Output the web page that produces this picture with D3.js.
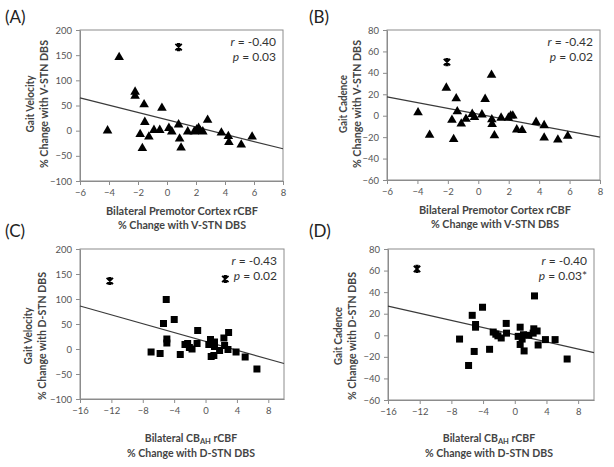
<!DOCTYPE html>
<html><head><meta charset="utf-8">
<script src="https://cdn.jsdelivr.net/npm/d3@7"></script>
<style>
body{margin:0;background:#fff;}
svg{display:block;font-family:Lato,"Open Sans",sans-serif;}
</style></head>
<body><svg id="c" width="614" height="467"></svg>
<script>
// ---- Data ----
// Panel A: Premotor rCBF vs Gait Velocity (V-STN)
const xA = [-4.1,-3.3,-2.2,-2.2,-1.85,-1.7,-1.58,-1.53,-1.25,-0.9,-0.5,-0.35,0.13,0.33,0.8,0.87,0.97,1.43,1.88,2.05,2.18,2.3,2.47,2.8,3.75,4.23,4.27,5.12,5.87];
const yA = [0,146,77,69,-7,-35,52,17,-12,1,1,45,5,-2,12,-16,-34,-2,-2,2,5,-1,-2,21,-4,-11,-23,-28,-12];
const outXA = [0.8], outYA = [166];
const fitXA = [-6, 8], fitYA = [65, -36];

// Panel B: Premotor rCBF vs Gait Cadence (V-STN)
const xB = [-3.96,-3.2,-2.1,-1.73,-1.62,-1.45,-1.38,-1.12,-0.81,-0.4,-0.25,0.24,0.45,0.87,0.89,0.91,1.06,1.5,1.98,2.13,2.27,2.53,2.88,3.8,4.33,4.33,5.23,5.88];
const yB = [3,-18,26,-4,-22,16,4,-7.5,-3,1.5,-1.5,1,15.5,38,-3.5,-8,-18.5,-2,-2,0,0,-13,-13.5,-6,-9,-20.5,-22.5,-19];
const outXB = [-2.06], outYB = [50];
const fitXB = [-6, 8], fitYB = [17.5, -20];

// Panel C: CB_AH rCBF vs Gait Velocity (D-STN)
const xC = [-5.01,-3.99,-5.36,-4.93,-4.93,-6.94,-5.79,-3.22,-2.62,-2.28,-2.06,-1.72,-1.08,-1.0,0.42,0.63,0.72,0.93,1.06,1.14,1.14,1.79,2.34,2.43,2.94,2.86,3.89,5.05,6.55];
const yC = [99,59,51,20,12,-6,-9,-11,9,11,3,0,11,37,9,19,-15,10,-13,14,5,-3,22,7,33,-1,-6,-16,-40];
const outXC = [-12.2, 2.52], outYC = [136, 140];
const fitXC = [-16, 10], fitYC = [86, -29];

// Panel D: CB_AH rCBF vs Gait Cadence (D-STN)
const xD = [2.49,-4.07,-5.37,-4.95,-4.95,-6.97,-5.12,-5.83,-3.18,-2.72,-2.39,-2.13,-1.71,-1.08,-1.04,0.43,0.68,0.68,0.93,1.1,1.18,1.77,2.32,2.4,2.82,2.95,3.87,5.09,6.61];
const yD = [36.5,26,18.5,10,7.5,-3.5,-15,-28,-13,3,1,-0.5,-2.5,11,2,-1,7.5,-8.5,-3.5,0.5,-14.5,0,2,6,4,-9,-4,-4,-22];
const outXD = [-12.34], outYD = [61.5];
const fitXD = [-16, 10], fitYD = [27, -16];

// Tick labels / axis texts
const ticksXPremotor = [-6,-4,-2,0,2,4,6,8];
const ticksXCB = [-16,-12,-8,-4,0,4,8];
const ticksYVel = [-100,-50,0,50,100,150,200];
const ticksYCad = [-60,-40,-20,0,20,40,60,80];
const statsR = ["-0.40","-0.42","-0.43","-0.40"];
const statsP = ["0.03","0.02","0.02","0.03*"];
const panelLabels = ["(A)","(B)","(C)","(D)"];
const yTitle1 = ["Gait Velocity","Gait Cadence","Gait Velocity","Gait Cadence"];
const yTitle2 = ["% Change with V-STN DBS","% Change with V-STN DBS","% Change with D-STN DBS","% Change with D-STN DBS"];
const xTitle2 = ["% Change with V-STN DBS","% Change with V-STN DBS","% Change with D-STN DBS","% Change with D-STN DBS"];

// ---- Layout ----
const panels = [
  {x:xA,y:yA,ox:outXA,oy:outYA,fx:fitXA,fy:fitYA,xd:[-6,8],yd:[-100,200],xt:ticksXPremotor,yt:ticksYVel,
   L:80,R:283,T:30,B:181, mark:"tri", lab:[5,23], yt1x:30, yt2x:44, ytc:104, xtc:182, xty1:211, xty2:225, xtl:"pm"},
  {x:xB,y:yB,ox:outXB,oy:outYB,fx:fitXB,fy:fitYB,xd:[-6,8],yd:[-60,80],xt:ticksXPremotor,yt:ticksYCad,
   L:387,R:600,T:30,B:180, mark:"tri", lab:[309,23], yt1x:343, yt2x:357, ytc:104, xtc:495, xty1:210, xty2:224, xtl:"pm"},
  {x:xC,y:yC,ox:outXC,oy:outYC,fx:fitXC,fy:fitYC,xd:[-16,10],yd:[-100,200],xt:ticksXCB,yt:ticksYVel,
   L:80,R:284,T:249,B:399, mark:"sq", lab:[5,237], yt1x:28, yt2x:42, ytc:336, xtc:191, xty1:438, xty2:453, xtl:"cb"},
  {x:xD,y:yD,ox:outXD,oy:outYD,fx:fitXD,fy:fitYD,xd:[-16,10],yd:[-60,80],xt:ticksXCB,yt:ticksYCad,
   L:388,R:594,T:249,B:400, mark:"sq", lab:[309,237], yt1x:338, yt2x:352, ytc:336, xtc:489, xty1:438, xty2:453, xtl:"cb"}
];
const W_PM = 152, W_PCT = 128, W_GV = 57, W_GC = 58;

const svg = d3.select("#c");
svg.append("rect").attr("width",614).attr("height",467).attr("fill","#fff");

panels.forEach((p,i)=>{
  const g = svg.append("g");
  const xs = d3.scaleLinear().domain(p.xd).range([p.L,p.R]);
  const ys = d3.scaleLinear().domain(p.yd).range([p.B,p.T]);

  g.append("rect").attr("x",p.L).attr("y",p.T).attr("width",p.R-p.L).attr("height",p.B-p.T)
    .attr("fill","none").attr("stroke","#8c8c8c").attr("stroke-width",1);

  const ax = g.append("g").attr("transform",`translate(0,${p.B})`)
    .call(d3.axisBottom(xs).tickValues(p.xt).tickSizeInner(4).tickSizeOuter(0).tickPadding(4).tickFormat(d3.format("d")));
  const ay = g.append("g").attr("transform",`translate(${p.L},0)`)
    .call(d3.axisLeft(ys).tickValues(p.yt).tickSizeInner(4).tickSizeOuter(0).tickPadding(4).tickFormat(d3.format("d")));
  [ax,ay].forEach(a=>{
    a.select(".domain").attr("stroke","#8c8c8c");
    a.selectAll(".tick line").attr("stroke","#8c8c8c");
    a.selectAll(".tick text").attr("fill","#555").style("font-size","9.5px").style("font-family","Lato, sans-serif");
  });

  g.append("line").attr("x1",xs(p.fx[0])).attr("y1",ys(p.fy[0])).attr("x2",xs(p.fx[1])).attr("y2",ys(p.fy[1]))
    .attr("stroke","#3a3a3a").attr("stroke-width",1.2);

  const pts = p.x.map((v,k)=>[v,p.y[k]]);
  if(p.mark==="tri"){
    const sym = d3.symbol().type(d3.symbolTriangle).size(40);
    g.selectAll(".pt").data(pts).enter().append("path")
      .attr("d",sym).attr("transform",d=>`translate(${xs(d[0])},${ys(d[1])})`).attr("fill","#000");
  } else {
    g.selectAll(".pt").data(pts).enter().append("rect")
      .attr("x",d=>xs(d[0])-3.5).attr("y",d=>ys(d[1])-3.5).attr("width",7).attr("height",7).attr("fill","#000");
  }
  const outs = p.ox.map((v,k)=>[v,p.oy[k]]);
  outs.forEach(d=>{
    const cx=xs(d[0]), cy=ys(d[1]), s=3.2, c=1.6;
    g.append("path").attr("d",`M${cx-s},${cy-s}L${cx+s},${cy+s}M${cx+s},${cy-s}L${cx-s},${cy+s}M${cx},${cy-s}L${cx},${cy+s}M${cx-c},${cy-s}L${cx+c},${cy-s}M${cx-c},${cy+s}L${cx+c},${cy+s}`)
      .attr("stroke","#000").attr("stroke-width",1.8).attr("fill","none");
  });

  const st = g.append("text").attr("x",p.R-7).attr("y",p.T+16).attr("text-anchor","end")
    .style("font-size","12px").attr("fill","#333");
  st.append("tspan").style("font-style","italic").text("r");
  st.append("tspan").text(" = "+statsR[i]);
  const st2 = g.append("text").attr("x",p.R-7).attr("y",p.T+31).attr("text-anchor","end")
    .style("font-size","12px").attr("fill","#333");
  st2.append("tspan").style("font-style","italic").text("p");
  st2.append("tspan").text(" = "+statsP[i]);

  g.append("text").attr("x",p.lab[0]).attr("y",p.lab[1]).text(panelLabels[i])
    .style("font-size","17px").attr("fill","#222");

  const yw1 = (i%2===0) ? W_GV : W_GC;
  [[p.yt1x,yTitle1[i],yw1],[p.yt2x,yTitle2[i],W_PCT]].forEach(([tx,t,w])=>{
    g.append("text").attr("transform",`translate(${tx},${p.ytc}) rotate(-90)`).attr("text-anchor","middle")
      .attr("dy","0.35em").attr("textLength",w).attr("lengthAdjust","spacingAndGlyphs")
      .style("font-size","11.5px").style("font-weight","bold").attr("fill","#444").text(t);
  });
  const t1 = g.append("text").attr("x",p.xtc).attr("y",p.xty1).attr("text-anchor","middle").attr("dy","0.35em")
    .style("font-weight","bold").attr("fill","#444");
  if(p.xtl==="pm"){
    t1.style("font-size","11.5px").attr("textLength",W_PM).attr("lengthAdjust","spacingAndGlyphs").text("Bilateral Premotor Cortex rCBF");
  } else {
    t1.style("font-size","10.5px");
    t1.append("tspan").text("Bilateral CB");
    t1.append("tspan").text("AH").style("font-size","7.5px").attr("baseline-shift","-20%");
    t1.append("tspan").text(" rCBF");
  }
  g.append("text").attr("x",p.xtc).attr("y",p.xty2).attr("text-anchor","middle").attr("dy","0.35em")
    .attr("textLength",W_PCT).attr("lengthAdjust","spacingAndGlyphs")
    .style("font-size","11.5px").style("font-weight","bold").attr("fill","#444").text(xTitle2[i]);
});
</script>
</body></html>
